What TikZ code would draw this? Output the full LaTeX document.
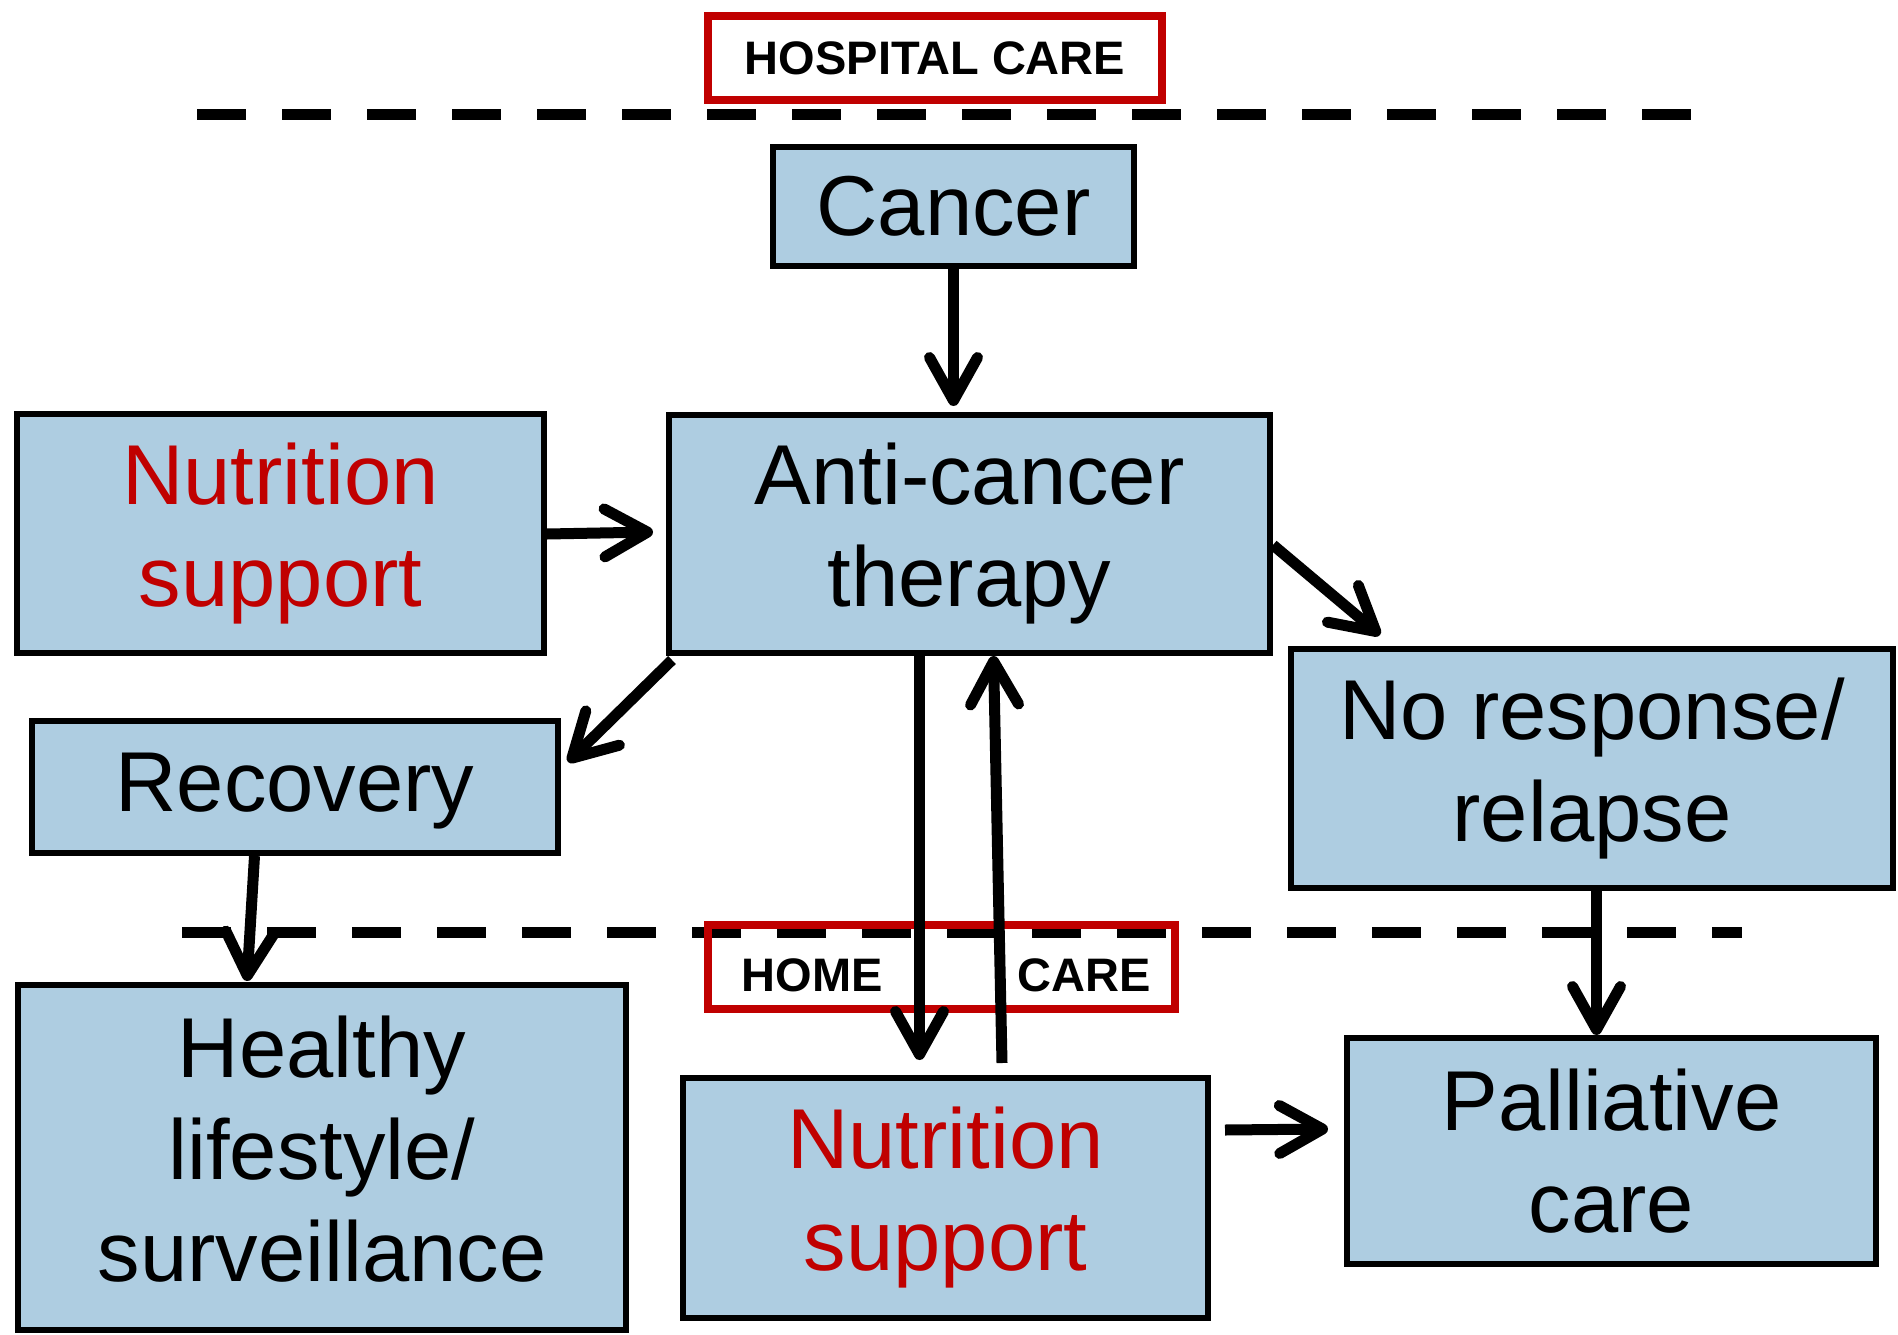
\documentclass[tikz,border=0pt]{standalone}
\usepackage{fontspec}
\setmainfont{Liberation Sans}
\usetikzlibrary{arrows.meta,calc}
\definecolor{boxblue}{RGB}{174,205,225}
\definecolor{darkred}{RGB}{192,0,0}
\begin{document}
\begin{tikzpicture}[x=1pt,y=-1pt,
  box/.style={draw=black, line width=6pt, fill=boxblue, inner sep=0pt,
    align=center, font=\fontsize{85}{102}\selectfont},
  nutri/.style={box, text=darkred},
  careframe/.style={draw=darkred, line width=7.5pt, inner sep=0pt,
    minimum height=84pt},
  caretext/.style={inner sep=0pt, font=\fontsize{47}{56}\selectfont\bfseries},
  divider/.style={line width=11pt, dash pattern=on 49pt off 36pt},
  flow/.style={line width=11pt, -{Straight Barb[length=43pt,width=48pt,round]}}
]
\useasboundingbox (0,0) rectangle (1898,1335);

% care-setting dividers
\draw[divider] (197,115) -- (1691,115);
\draw[divider] (182,932) -- (1742,932);

% setting labels
\node[careframe, fill=white, minimum width=454pt, caretext] (hospital) at (935,58) {HOSPITAL CARE};
\node[careframe, minimum width=467pt] (homeframe) at (941.5,967) {};
\node[caretext, anchor=base] (home) at (812,991) {HOME};
\node[caretext, anchor=base] (care) at (1084,991) {CARE};

% stages
\node[box, minimum width=361pt, minimum height=119pt] (cancer) at (953.5,206.5) {Cancer};
\node[box, minimum width=601pt, minimum height=238pt] (anti) at (969.5,534) {Anti-cancer\\therapy};
\node[nutri, minimum width=527pt, minimum height=239pt] (nut1) at (280.5,533.5) {Nutrition\\support};
\node[box, minimum width=526pt, minimum height=132pt, text depth=10pt] (recov) at (295,787) {Recovery};
\node[box, minimum width=602pt, minimum height=239pt] (noresp) at (1592,768.5) {No response/\\relapse};
\node[box, minimum width=529pt, minimum height=226pt] (pall) at (1611.5,1151) {Palliative\\care};
\node[nutri, minimum width=525pt, minimum height=240pt] (nut2) at (945.5,1198) {Nutrition\\support};
\node[box, minimum width=608pt, minimum height=345pt] (healthy) at (322,1157.5) {Healthy\\lifestyle/\\surveillance\vphantom{p}};

% transitions
\draw[flow] (cancer.south) -- ($(cancer.south |- anti.north)+(0,-6)$);
\draw[flow] ($(nut1.east)+(0,0.5)$) -- ($(anti.west)+(-13,-2)$);
\draw[flow] ($(anti.east)+(0,11)$) -- ($(noresp.north west)+(92,-11)$);
\draw[flow] ($(anti.south west)+(6,4)$) -- ($(recov.east)+(7,-25)$);
\draw[flow] ($(recov.south)+(-40.5,0)$) -- ($(healthy.north)+(-75,-1)$);
\draw[flow] ($(anti.south)+(-50,0)$) -- ($(nut2.north)+(-26,-15)$);
\draw[flow] ($(nut2.north)+(56.5,-12)$) -- ($(anti.south)+(24,0)$);
\draw[flow] ($(noresp.south)+(4.5,0)$) -- ($(pall.north)+(-15,0)$);
\draw[flow] ($(nut2.east)+(14,-68)$) -- ($(pall.west)+(-16,-22)$);
\end{tikzpicture}
\end{document}
